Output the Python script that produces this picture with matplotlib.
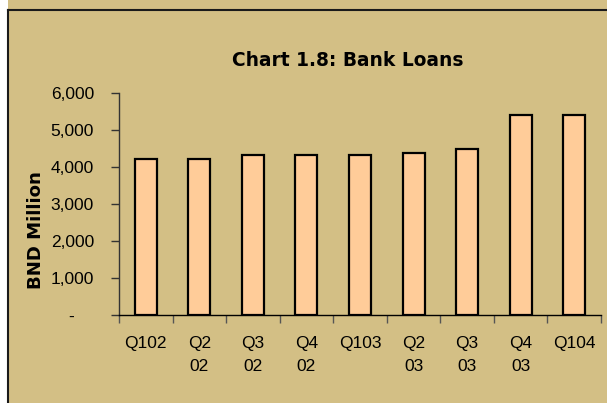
import matplotlib
matplotlib.use("Agg")
import matplotlib.pyplot as plt
from matplotlib.lines import Line2D
from matplotlib.patches import Rectangle
from matplotlib.ticker import FixedLocator

categories = ["Q102", "Q2\n02", "Q3\n02", "Q4\n02", "Q103", "Q2\n03", "Q3\n03", "Q4\n03", "Q104"]
loans = [4210, 4210, 4320, 4320, 4320, 4370, 4490, 5410, 5410]
yticks = [0, 1000, 2000, 3000, 4000, 5000, 6000]
ytick_labels = ["-    ", "1,000", "2,000", "3,000", "4,000", "5,000", "6,000"]

W, H = 607, 403
BG = "#D3BF85"
fig = plt.figure(figsize=(W / 100, H / 100), dpi=100, facecolor=BG)

# white strip at left and frame border
fig.patches.append(Rectangle((0, 0), 7.5 / W, 1, transform=fig.transFigure,
                             facecolor="white", edgecolor="none", zorder=0))
fig.lines.append(Line2D([8 / W, 8 / W], [0, 1 - 10 / H], transform=fig.transFigure,
                        color="#1a1a1a", lw=1.5))
fig.lines.append(Line2D([8 / W, 1], [1 - 10 / H, 1 - 10 / H], transform=fig.transFigure,
                        color="#1a1a1a", lw=1.5))

ax_l, ax_r, ax_b, ax_t = 119, 601, 315, 93
ax = fig.add_axes([ax_l / W, 1 - ax_b / H, (ax_r - ax_l) / W, (ax_b - ax_t) / H])
ax.set_facecolor(BG)

x = list(range(len(categories)))
ax.bar(x, loans, width=0.41, color="#FFCC99", edgecolor="black", linewidth=1.6, zorder=3)

ax.set_xlim(-0.5, len(categories) - 0.5)
ax.set_ylim(0, 6000)

for s in ["top", "right"]:
    ax.spines[s].set_visible(False)
ax.spines["left"].set_color("#333333")
ax.spines["bottom"].set_color("black")
ax.spines["left"].set_linewidth(1.0)
ax.spines["bottom"].set_linewidth(1.0)

tick_font = dict(family="Liberation Sans", size=12.5)
ax.set_yticks(yticks)
ax.set_yticklabels(ytick_labels, **tick_font)
ax.tick_params(axis="y", length=6, width=1, color="#333333", pad=12)

ax.set_xticks(x)
ax.set_xticklabels(categories, **tick_font, linespacing=1.7)
ax.tick_params(axis="x", which="major", length=0, pad=15)
ax.xaxis.set_minor_locator(FixedLocator([i - 0.5 for i in range(len(categories) + 1)]))
ax.tick_params(axis="x", which="minor", length=6, width=1, color="#555555")

fig.text(348 / W, 1 - 60 / H, "Chart 1.8: Bank Loans", ha="center", va="center",
         family="DejaVu Sans", weight="bold", size=13.4)
fig.text(36 / W, 1 - 230 / H, "BND Million", ha="center", va="center", rotation=90,
         family="DejaVu Sans", weight="bold", size=13.1)

fig.savefig("out.png", dpi=100, facecolor=BG)
